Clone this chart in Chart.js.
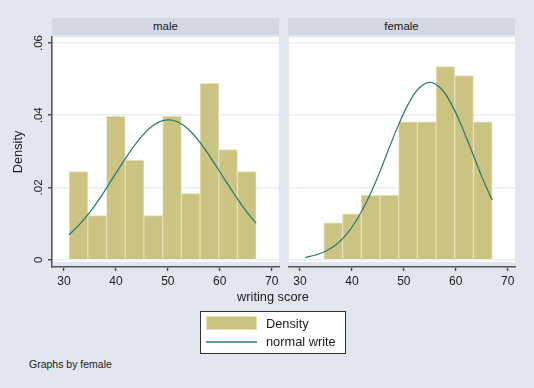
<!DOCTYPE html>
<html>
<head>
<meta charset="utf-8">
<script src="https://cdn.jsdelivr.net/npm/chart.js@4.4.0/dist/chart.umd.min.js"></script>
<style>
  body {
    margin: 0;
    width: 534px;
    height: 388px;
    position: relative;
    overflow: hidden;
    background: #e2e6f0;
    font-family: "Liberation Sans", Arial, Helvetica, sans-serif;
    color: #1a1a1a;
  }
  .strip {
    position: absolute;
    top: 18px;
    width: 227px;
    height: 17px;
    line-height: 17px;
    background: #d3d8e3;
    text-align: center;
    font-size: 11.5px;
  }
  canvas { position: absolute; top: 30px; }
  #xTitle {
    position: absolute; left: 173px; width: 200px; top: 289px;
    text-align: center; font-size: 12.8px;
  }
  #legend {
    position: absolute; left: 200px; top: 311px; width: 144px; height: 41px;
    background: #fff; border: 1px solid #333;
  }
  .sw { position: absolute; left: 5px; width: 51px; }
  .lt { position: absolute; left: 65px; font-size: 12.8px; line-height: 15px; }
  #note { position: absolute; left: 29px; top: 358px; font-size: 10.5px; }
</style>
</head>
<body>
<div class="strip" style="left:52px">male</div>
<div class="strip" style="left:288px">female</div>
<canvas id="maleChart" width="282" height="270" style="left:0px"></canvas>
<canvas id="femaleChart" width="230" height="270" style="left:288px"></canvas>
<div id="xTitle">writing score</div>
<div id="legend">
  <div class="sw" style="top:4px;height:14px;background:#cac381;border:1px solid #e4e0b4;box-sizing:border-box"></div>
  <div class="lt" style="top:4px">Density</div>
  <div class="sw" style="top:29px;height:2px;background:#5f9c96"></div>
  <div class="lt" style="top:22px">normal write</div>
</div>
<div id="note">Graphs by female</div>

<script>
// histogram bins: 10 bins of width 3.6 starting at 31
const binCenters = [32.8, 36.4, 40, 43.6, 47.2, 50.8, 54.4, 58, 61.6, 65.2];
const maleDensity = [0.0244, 0.0122, 0.0397, 0.0275, 0.0122, 0.0397, 0.0183, 0.0488, 0.0305, 0.0244];
const femaleDensity = [0, 0.0102, 0.0127, 0.0178, 0.0178, 0.0382, 0.0382, 0.0535, 0.0510, 0.0382];

// normal density curves
const curveX = [31, 33, 35, 37, 39, 41, 43, 45, 47, 49, 51, 53, 55, 57, 59, 61, 63, 65, 67];
const maleNormal = [0.0069, 0.0098, 0.0132, 0.0172, 0.0217, 0.0262, 0.0305, 0.0342, 0.0370, 0.0385,
                    0.0386, 0.0372, 0.0346, 0.0309, 0.0266, 0.0221, 0.0177, 0.0136, 0.0101];
const femaleNormal = [0.0006, 0.0013, 0.0024, 0.0042, 0.0071, 0.0112, 0.0165, 0.0230, 0.0303, 0.0374,
                      0.0435, 0.0476, 0.0491, 0.0476, 0.0435, 0.0374, 0.0303, 0.0230, 0.0165];

const xTicks = [30, 40, 50, 60, 70];
const yTicks = [0, 0.02, 0.04, 0.06];
const yTickLabels = ['0', '.02', '.04', '.06'];

const BAR_COLOR = '#cac381';
const BAR_EDGE = '#e4e0b4';
const LINE_COLOR = '#2a7771';
const AXIS_COLOR = '#555';
const GRID_COLOR = '#eaedf4';
const FONT = '"Liberation Sans", Arial, Helvetica, sans-serif';

// white plot region, stops a little above the x axis line
const plotBg = {
  id: 'plotBg',
  beforeDraw(chart) {
    const { ctx, chartArea: { left, top, right, bottom } } = chart;
    ctx.save();
    ctx.fillStyle = '#fff';
    ctx.fillRect(left + 1, top, right - left - 1, bottom - 5 - top);
    ctx.restore();
  }
};

// vertical y tick labels (Stata style)
const yLabels = {
  id: 'yLabels',
  afterDraw(chart) {
    const { ctx } = chart;
    const y = chart.scales.y;
    ctx.save();
    ctx.font = '11.5px ' + FONT;
    ctx.fillStyle = '#1a1a1a';
    ctx.textAlign = 'center';
    ctx.textBaseline = 'middle';
    yTicks.forEach((v, i) => {
      ctx.save();
      ctx.translate(39, y.getPixelForValue(v));
      ctx.rotate(-Math.PI / 2);
      ctx.fillText(yTickLabels[i], 0, 0);
      ctx.restore();
    });
    ctx.restore();
  }
};

function makePanel(id, density, normal, showY) {
  const bars = binCenters
    .map((x, i) => ({ x: x, y: density[i] }))
    .filter(d => d.y > 0);
  const curve = curveX.map((x, i) => ({ x: x, y: normal[i] }));

  return new Chart(document.getElementById(id), {
    type: 'bar',
    data: {
      datasets: [
        {
          type: 'bar',
          label: 'Density',
          data: bars,
          backgroundColor: BAR_COLOR,
          borderColor: BAR_EDGE,
          borderWidth: 1,
          barPercentage: 1,
          categoryPercentage: 1,
          order: 2
        },
        {
          type: 'line',
          label: 'normal write',
          data: curve,
          borderColor: LINE_COLOR,
          borderWidth: 1.2,
          pointRadius: 0,
          tension: 0.4,
          fill: false,
          order: 1
        }
      ]
    },
    options: {
      responsive: false,
      animation: false,
      layout: { padding: { top: 7, right: 3, left: 0, bottom: 0 } },
      plugins: { legend: { display: false }, tooltip: { enabled: false } },
      scales: {
        x: {
          type: 'linear',
          min: 27.7,
          max: 71.4,
          offset: false,
          afterBuildTicks: s => { s.ticks = xTicks.map(v => ({ value: v })); },
          afterFit: s => { s.height = 33; },
          ticks: { font: { size: 12, family: FONT }, color: '#1a1a1a', padding: 3, maxRotation: 0 },
          grid: { drawOnChartArea: false, offset: false, tickLength: 4, tickColor: AXIS_COLOR, tickWidth: 1.5 },
          border: { color: AXIS_COLOR, width: 1.5 }
        },
        y: {
          min: -0.00202,
          max: 0.06166,
          afterBuildTicks: s => { s.ticks = yTicks.map(v => ({ value: v })); },
          afterFit: s => { s.width = showY ? 52 : 0; },
          ticks: { display: false },
          title: {
            display: showY,
            text: 'Density',
            font: { size: 12.8, family: FONT },
            color: '#1a1a1a',
            padding: { top: 11, bottom: 0 }
          },
          grid: {
            color: GRID_COLOR,
            lineWidth: 1.5,
            drawTicks: showY,
            tickLength: 4,
            tickColor: AXIS_COLOR,
            tickWidth: 1.5
          },
          border: { display: showY, color: AXIS_COLOR, width: 1.5 }
        }
      }
    },
    plugins: showY ? [plotBg, yLabels] : [plotBg]
  });
}

makePanel('maleChart', maleDensity, maleNormal, true);
makePanel('femaleChart', femaleDensity, femaleNormal, false);
</script>
</body>
</html>
